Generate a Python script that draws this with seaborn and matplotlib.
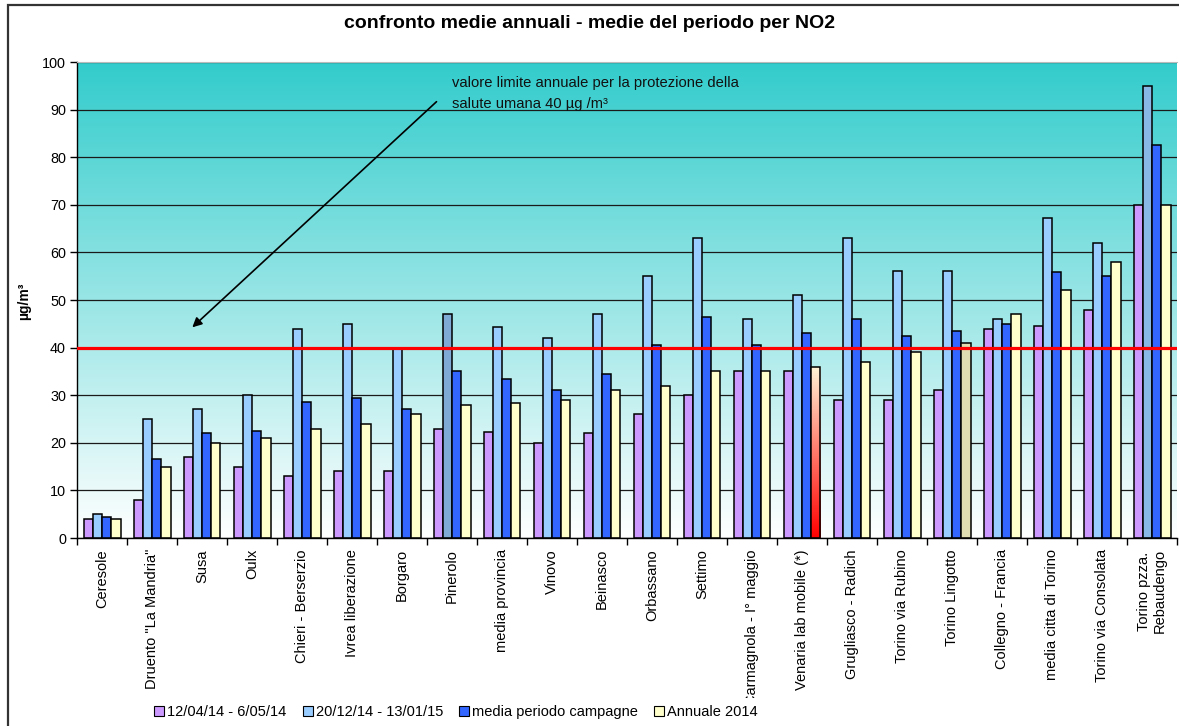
import numpy as np
import pandas as pd
import matplotlib
matplotlib.use("Agg")
import matplotlib.pyplot as plt
import matplotlib.colors as mcolors
from matplotlib.patches import Patch, Rectangle
import seaborn as sns

# NO2 concentrations (µg/m³) per monitoring site
stations = [
    "Ceresole", 'Druento "La Mandria"', "Susa", "Oulx", "Chieri - Berserzio",
    "Ivrea liberazione", "Borgaro", "Pinerolo", "media provincia", "Vinovo",
    "Beinasco", "Orbassano", "Settimo", "Carmagnola - I° maggio",
    "Venaria lab mobile (*)", "Grugliasco - Radich", "Torino via Rubino",
    "Torino Lingotto", "Collegno - Francia", "media citta di Torino",
    "Torino via Consolata", "Torino pzza.\nRebaudengo",
]
spring_2014 = [4, 8, 17, 15, 13, 14, 14, 23, 22.2, 20, 22, 26, 30, 35, 35, 29, 29, 31, 44, 44.5, 48, 70]
winter_2014_15 = [5, 25, 27, 30, 44, 45, 40, 47, 44.3, 42, 47, 55, 63, 46, 51, 63, 56, 56, 46, 67.2, 62, 95]
campaign_mean = [4.5, 16.5, 22, 22.5, 28.5, 29.5, 27, 35, 33.3, 31, 34.5, 40.5, 46.5, 40.5, 43, 46, 42.5, 43.5, 45, 55.9, 55, 82.5]
annual_2014 = [4, 15, 20, 21, 23, 24, 26, 28, 28.3, 29, 31, 32, 35, 35, 36, 37, 39, 41, 47, 52, 58, 70]

series_labels = ["12/04/14 - 6/05/14", "20/12/14 - 13/01/15",
                 "media periodo campagne", "Annuale 2014"]
limit_value = 40

wide = pd.DataFrame({
    "stazione": stations,
    series_labels[0]: spring_2014,
    series_labels[1]: winter_2014_15,
    series_labels[2]: campaign_mean,
    series_labels[3]: annual_2014,
})
long = wide.melt(id_vars="stazione", var_name="periodo", value_name="NO2")

palette = dict(zip(series_labels, ["#CC99FF", "#99CCFF", "#3366FF", "#FFFFCC"]))

plt.rcParams["font.family"] = ["Liberation Sans", "DejaVu Sans"]

W, H = 1179, 726
fig = plt.figure(figsize=(W / 100, H / 100), dpi=100)
ax = fig.add_axes([77 / W, 1 - 538 / H, 1100 / W, 476 / H])

sns.barplot(data=long, x="stazione", y="NO2", hue="periodo",
            order=stations, hue_order=series_labels, palette=palette,
            width=0.74, gap=0, saturation=1, edgecolor="black",
            linewidth=1.1, legend=False, ax=ax, zorder=2)

# sky gradient behind the bars
grad = np.linspace(0, 1, 256).reshape(-1, 1)
sky = mcolors.LinearSegmentedColormap.from_list("sky", ["#FFFFFF", "#33CCCC"])
ax.imshow(grad, extent=(-0.5, len(stations) - 0.5, 0, 100), origin="lower",
          aspect="auto", cmap=sky, zorder=0)

# a few bars with their own shading
ax.containers[1][7].set_facecolor("#80AAD6")
ax.containers[1][21].set_facecolor("#88B8E6")
ax.containers[3][17].set_facecolor("#DEDCB0")

# Venaria annual bar: red-to-pale vertical fill
vbar = ax.containers[3][14]
x0, w, h = vbar.get_x(), vbar.get_width(), vbar.get_height()
warm = mcolors.LinearSegmentedColormap.from_list("warm", ["#FF0000", "#FFF4D6"])
im = ax.imshow(grad, extent=(x0, x0 + w, 0, h), origin="lower",
               aspect="auto", cmap=warm, zorder=2.1)
im.set_clip_path(vbar)
vbar.set_facecolor("none")
vbar.set_zorder(2.2)

# annual limit value
ax.axhline(limit_value, color="#FF0000", lw=2.3, zorder=5)
ax.annotate("", xy=(1.806, 44.26), xytext=(6.69, 91.66),
            arrowprops=dict(arrowstyle="-|>", color="black", lw=1.2,
                            mutation_scale=14, shrinkA=0, shrinkB=0),
            zorder=6)
ax.text(7.01, 95.5, "valore limite annuale per la protezione della",
        fontsize=10.6, ha="left", va="center", color="#111111", zorder=6)
ax.text(7.01, 91.1, "salute umana 40 µg /m³",
        fontsize=10.6, ha="left", va="center", color="#111111", zorder=6)

ax.set_xlim(-0.5, len(stations) - 0.5)
ax.set_ylim(0, 100)
ax.set_yticks(range(0, 101, 10))
ax.yaxis.grid(True, color="#1a1a1a", lw=0.9)
ax.set_axisbelow(True)
ax.set_xlabel("")
ax.set_ylabel("")

ax.set_xticks(range(len(stations)))
ax.set_xticklabels(stations, rotation=90, fontsize=10.5, ha="center", va="top")
ax.set_xticks(np.arange(-0.5, len(stations), 1), minor=True)
ax.tick_params(axis="x", which="major", length=0, pad=8)
ax.tick_params(axis="x", which="minor", length=5, width=1, color="black")
ax.tick_params(axis="y", length=5, width=1, pad=3, labelsize=10.4)

for side in ("left", "bottom"):
    ax.spines[side].set_color("black")
    ax.spines[side].set_linewidth(1.0)
ax.spines["top"].set_color("#BBBBBB")
ax.spines["right"].set_visible(False)

fig.text(590 / W, 1 - 23 / H, "confronto medie annuali - medie del periodo per NO2",
         ha="center", va="center", fontsize=14, fontweight="bold")
fig.text(24 / W, 1 - 301 / H, "µg/m³", rotation=90, ha="center", va="center",
         fontsize=10, fontweight="bold")

# white legend area sitting over the long tick labels
fig.add_artist(Rectangle((138 / W, 0), 640 / W, 28 / H, transform=fig.transFigure,
                         facecolor="white", edgecolor="none", zorder=2))

handles = [Patch(facecolor=palette[s], edgecolor="black", lw=0.8, label=s)
           for s in series_labels]
leg = fig.legend(handles=handles, loc="center", bbox_to_anchor=(456 / W, 1 - 712 / H),
                 ncol=4, frameon=False, fontsize=10.5, handlelength=0.7,
                 handleheight=0.7, handletextpad=0.2, columnspacing=1.1,
                 borderpad=0)
leg.set_zorder(3)

fig.add_artist(Rectangle((8 / W, -0.1), 1.2, 1.1 - 5 / H, transform=fig.transFigure,
                         fill=False, edgecolor="#333333", lw=1.6, zorder=4))

fig.savefig("out.png", dpi=100)
